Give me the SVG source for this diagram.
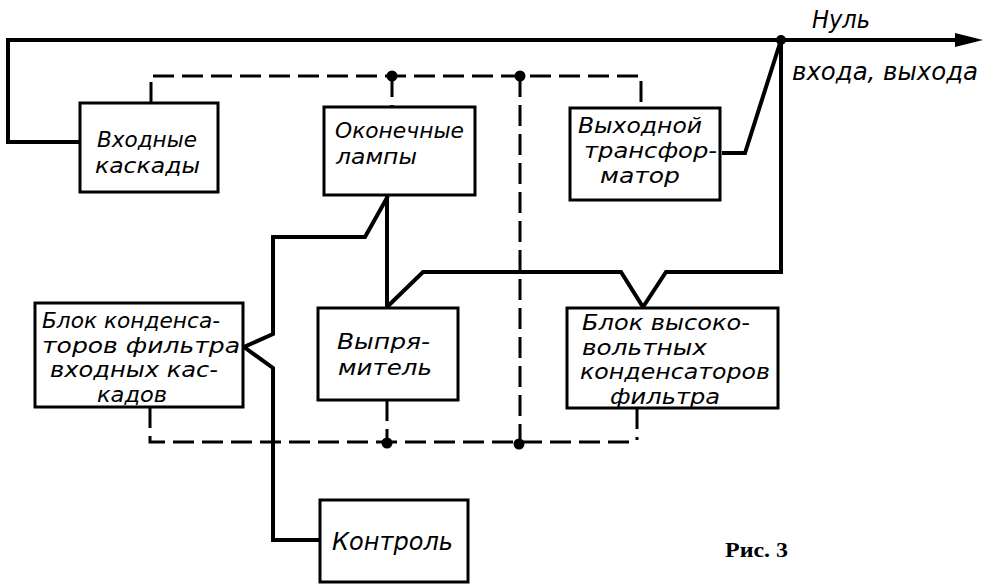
<svg xmlns="http://www.w3.org/2000/svg" width="986" height="586" viewBox="0 0 986 586">
<defs>
<style>
.box{fill:#fff;stroke:#000;stroke-width:3}
.w{fill:none;stroke:#000;stroke-width:4;stroke-linejoin:miter}
.d{fill:none;stroke:#000;stroke-width:3;stroke-dasharray:21 8}
.t{font-family:"DejaVu Sans Condensed","DejaVu Sans",sans-serif;font-style:italic;font-size:24px;fill:#000}
.m{font-size:22px}
.s{font-size:21px}
.cap{font-family:"Liberation Serif",serif;font-weight:bold;font-size:21px;fill:#000}
</style>
</defs>
<rect width="986" height="586" fill="#fff"/>
<g id="connectors">
<path class="w" d="M8,40 H960"/>
<polygon points="955,33 983,40 955,47" fill="#000"/>
<path class="w" d="M80,142 H8 V38"/>
<path class="w" d="M722,153 H745 L781,40 V272 H666 L643,307 L621,272 H423 L387,307"/>
<path class="w" d="M387,195 V307"/>
<path class="w" d="M388,196 L365,237 H273 V334 L244,347 L273,368 V540 H320"/>
<path class="d" d="M151,103 V76 H641 V108"/>
<path class="d" d="M392,76 V107"/>
<path class="d" d="M520,76 V444"/>
<path class="d" d="M150,407 V442 H632"/>
<path class="d" d="M637,408 V440"/>
<path class="d" d="M387,400 V443"/>
<circle cx="781" cy="40" r="5"/>
<circle cx="392" cy="76" r="5.5"/>
<circle cx="520" cy="76" r="5.5"/>
<circle cx="387" cy="443" r="5.5"/>
<circle cx="519" cy="444" r="5.5"/>
</g>
<g id="vhodnye">
<rect class="box" x="80" y="103" width="138" height="89"/>
<text class="t m"><tspan x="97" y="147" textLength="100" lengthAdjust="spacingAndGlyphs">Входные</tspan><tspan x="95" y="173" textLength="105" lengthAdjust="spacingAndGlyphs">каскады</tspan></text>
</g>
<g id="okonechnye">
<rect class="box" x="324" y="107" width="151" height="88"/>
<text class="t m"><tspan x="335" y="138" textLength="129" lengthAdjust="spacingAndGlyphs">Оконечные</tspan><tspan x="336" y="164" textLength="81" lengthAdjust="spacingAndGlyphs">лампы</tspan></text>
</g>
<g id="vyhodnoy">
<rect class="box" x="570" y="108" width="150" height="92"/>
<text class="t s"><tspan x="578" y="133" textLength="124" lengthAdjust="spacingAndGlyphs">Выходной</tspan><tspan x="584" y="158" textLength="133" lengthAdjust="spacingAndGlyphs">трансфор-</tspan><tspan x="600" y="183" textLength="80" lengthAdjust="spacingAndGlyphs">матор</tspan></text>
</g>
<g id="blok-vhod">
<rect class="box" x="35" y="303" width="208" height="104"/>
<text class="t s"><tspan x="42" y="328" textLength="178" lengthAdjust="spacingAndGlyphs">Блок конденса-</tspan><tspan x="42" y="352.5" textLength="198" lengthAdjust="spacingAndGlyphs">торов фильтра</tspan><tspan x="50" y="377" textLength="168" lengthAdjust="spacingAndGlyphs">входных кас-</tspan><tspan x="97" y="401.5" textLength="70" lengthAdjust="spacingAndGlyphs">кадов</tspan></text>
</g>
<g id="vypryamitel">
<rect class="box" x="318" y="308" width="140" height="92"/>
<text class="t m"><tspan x="337" y="349" textLength="93" lengthAdjust="spacingAndGlyphs">Выпря-</tspan><tspan x="338" y="375" textLength="94" lengthAdjust="spacingAndGlyphs">митель</tspan></text>
</g>
<g id="blok-vysoko">
<rect class="box" x="567" y="308" width="211" height="100"/>
<text class="t s"><tspan x="582" y="330" textLength="168" lengthAdjust="spacingAndGlyphs">Блок высоко-</tspan><tspan x="582" y="354.5" textLength="125" lengthAdjust="spacingAndGlyphs">вольтных</tspan><tspan x="580" y="379" textLength="190" lengthAdjust="spacingAndGlyphs">конденсаторов</tspan><tspan x="610" y="403.5" textLength="110" lengthAdjust="spacingAndGlyphs">фильтра</tspan></text>
</g>
<g id="kontrol">
<rect class="box" x="320" y="500" width="148" height="82"/>
<text class="t" x="332" y="550" textLength="121" lengthAdjust="spacingAndGlyphs">Контроль</text>
</g>
<g id="labels">
<text class="t" x="812" y="28" textLength="58" lengthAdjust="spacingAndGlyphs">Нуль</text>
<text class="t" x="792" y="80" textLength="186" lengthAdjust="spacingAndGlyphs">входа, выхода</text>
<text class="cap" x="725" y="557" textLength="63" lengthAdjust="spacingAndGlyphs">Рис. 3</text>
</g>
</svg>
